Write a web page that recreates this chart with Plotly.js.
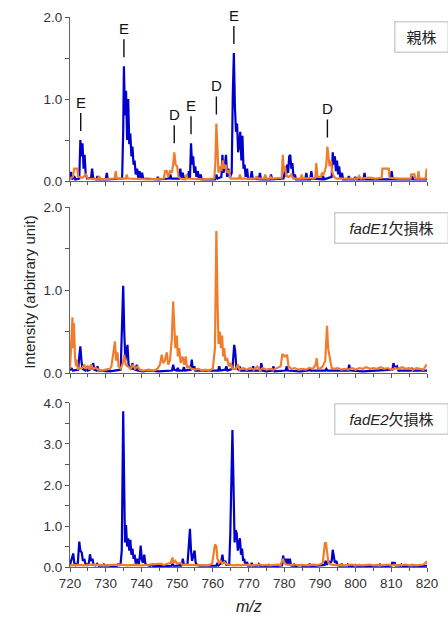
<!DOCTYPE html>
<html><head><meta charset="utf-8">
<script src="https://cdn.plot.ly/plotly-3.0.1.min.js"></script>
<style>html,body{margin:0;padding:0;background:#fff}</style>
</head><body><div id="chart" style="width:448px;height:620px"></div>
<script>
// ---- data: [m/z, intensity] ----
const panelLabels = ['親株', '<i>fadE1</i>欠損株', '<i>fadE2</i>欠損株'];
const xTicks = [720,730,740,750,760,770,780,790,800,810,820];
const parentBlue = [[720,0.02],[720.3,0.11],[720.6,0.02],[721.2,0.06],[721.5,0.02],
[722.6,0.03],[722.9,0.50],[723.2,0.30],[723.5,0.46],[723.8,0.15],[724.1,0.32],[724.4,0.08],[724.8,0.03],
[725.9,0.04],[726.2,0.15],[726.5,0.03],[727.4,0.02],[727.7,0.06],[728,0.02],
[730.0,0.02],[730.3,0.10],[730.6,0.02],
[734.6,0.03],[734.9,0.6],[735.1,1.40],[735.4,0.8],[735.7,1.1],[736.0,0.5],[736.3,1.0],[736.6,0.45],[736.9,0.58],[737.2,0.3],[737.5,0.42],[737.8,0.2],[738.1,0.25],[738.4,0.08],[738.8,0.15],[739.1,0.04],[739.5,0.12],[739.8,0.03],[740.2,0.1],[740.5,0.03],
[744.4,0.02],[744.6,0.05],[744.9,0.02],
[747.8,0.03],[748.1,0.08],[748.4,0.03],
[750.6,0.03],[750.9,0.15],[751.2,0.04],[751.6,0.1],[751.9,0.03],
[753.0,0.04],[753.3,0.12],[753.6,0.03],[753.9,0.46],[754.2,0.2],[754.5,0.3],[754.8,0.1],[755.1,0.18],[755.4,0.05],[755.8,0.12],[756.1,0.03],[756.6,0.08],[756.9,0.02],
[760.6,0.02],[761.0,0.08],[761.3,0.03],
[762.4,0.05],[762.7,0.32],[763.0,0.1],[763.4,0.2],[763.7,0.32],[764.0,0.05],[764.4,0.15],[764.8,0.04],
[765.3,0.1],[765.6,1.05],[765.9,1.56],[766.2,0.9],[766.5,0.6],[766.8,0.7],[767.1,0.35],[767.4,0.45],[767.7,0.6],[768.0,0.25],[768.3,0.55],[768.6,0.15],[768.9,0.2],[769.2,0.05],[769.6,0.15],[769.9,0.03],[770.6,0.03],[770.9,0.12],[771.2,0.03],[772.9,0.02],[773.2,0.1],[773.5,0.02],
[776.0,0.02],[776.3,0.08],[776.6,0.02],
[779.8,0.03],[780.2,0.12],[780.5,0.05],[780.8,0.2],[781.1,0.1],[781.4,0.3],[781.7,0.32],[782.0,0.15],[782.3,0.22],[782.6,0.05],[783.0,0.08],[783.3,0.02],
[785.9,0.02],[786.2,0.1],[786.5,0.02],[787.3,0.02],[787.6,0.12],[787.9,0.03],
[790.6,0.02],[790.9,0.06],[791.2,0.02],
[793.3,0.05],[793.6,0.35],[793.9,0.2],[794.2,0.3],[794.5,0.12],[794.8,0.25],[795.1,0.08],[795.4,0.18],[795.7,0.04],[796.2,0.1],[796.5,0.02],
[797.8,0.02],[798.1,0.06],[798.4,0.02],[799.6,0.02],[799.9,0.05],[800.2,0.02],
[802.2,0.02],[802.5,0.1],[802.8,0.02],
[809.8,0.02],[810.1,0.12],[810.4,0.02],
[815.5,0.02],[815.8,0.06],[816.1,0.02],[820,0.02]];
const parentOrange = [[720,0.03],[720.8,0.05],[721.2,0.15],[722.0,0.15],[722.3,0.05],[723.5,0.04],[724.5,0.08],[725,0.03],
[727.8,0.02],[728.2,0.06],[728.5,0.02],[732.5,0.03],[732.8,0.12],[733.1,0.03],[735.6,0.03],[735.9,0.08],[736.2,0.03],[742,0.02],
[746.3,0.03],[746.6,0.12],[747.1,0.12],[747.5,0.05],[748.0,0.12],[748.5,0.1],[748.9,0.2],[749.2,0.35],[749.6,0.2],[750.0,0.18],[750.4,0.05],[751.0,0.03],
[752.3,0.02],[752.6,0.08],[752.9,0.03],[757.0,0.02],
[760.4,0.03],[760.7,0.2],[761.0,0.7],[761.3,0.3],[761.6,0.1],[762.0,0.18],[762.4,0.12],[762.8,0.25],[763.2,0.15],[763.6,0.2],[764.0,0.1],[764.5,0.12],[765.0,0.03],
[767.3,0.03],[767.6,0.08],[767.9,0.03],[772.0,0.03],[772.3,0.06],[772.6,0.03],
[774.4,0.03],[774.7,0.08],[775.0,0.03],[775.9,0.03],[776.2,0.05],[776.5,0.03],
[779.3,0.04],[779.6,0.32],[779.9,0.12],[780.2,0.18],[780.6,0.06],[781.3,0.05],[782.0,0.08],[782.5,0.03],
[784.6,0.03],[784.9,0.08],[785.2,0.03],[788.7,0.04],[789.0,0.22],[789.3,0.05],
[790.3,0.05],[790.6,0.1],[791.0,0.08],[791.4,0.12],[791.8,0.2],[792.1,0.42],[792.4,0.3],[792.7,0.18],[793.1,0.25],[793.5,0.1],[794.0,0.05],[794.6,0.03],
[797.5,0.03],[800.5,0.03],[801.0,0.06],[801.4,0.03],[804.0,0.04],[805.5,0.03],
[807.3,0.04],[807.5,0.15],[809.3,0.15],[809.5,0.04],
[812,0.03],[815.4,0.03],[815.6,0.08],[816.5,0.08],[816.7,0.03],[817.4,0.03],[817.6,0.12],[817.9,0.03],[819.6,0.03],[819.9,0.15],[820,0.03]];
const fadE1Blue = [[720,0.03],[720.4,0.06],[720.8,0.03],[722.3,0.04],[722.6,0.2],[722.9,0.32],[723.2,0.15],[723.5,0.05],[724.3,0.03],[724.6,0.08],[725,0.03],[725.6,0.04],[725.9,0.1],[726.2,0.05],[726.5,0.12],[726.8,0.04],[727.4,0.03],[727.7,0.08],[728,0.03],[730.6,0.02],[730.9,0.04],[731.2,0.02],
[734.2,0.04],[734.6,0.5],[734.9,1.05],[735.2,0.5],[735.5,0.15],[735.8,0.25],[736.1,0.34],[736.4,0.1],[737.2,0.04],[737.5,0.12],[737.8,0.05],[738.4,0.04],[738.7,0.1],[739,0.03],[740.5,0.02],[742,0.03],[743.5,0.02],[744.8,0.02],
[748.6,0.03],[748.9,0.1],[749.2,0.04],[749.9,0.03],[750.2,0.06],[750.5,0.03],[751.6,0.03],[751.9,0.07],[752.2,0.03],[753.8,0.04],[754.1,0.16],[754.4,0.05],[754.8,0.08],[755.1,0.03],
[761.5,0.03],[761.8,0.08],[762.1,0.03],[763.5,0.04],[763.8,0.08],[764.1,0.03],
[765.5,0.05],[765.8,0.3],[766.0,0.34],[766.3,0.25],[766.6,0.06],[767.2,0.04],[767.5,0.08],[767.8,0.03],
[771.0,0.03],[771.3,0.08],[771.6,0.03],[773.3,0.03],[773.6,0.12],[773.9,0.03],[775,0.02],
[776.7,0.03],[777,0.08],[777.3,0.02],[780.4,0.03],[780.7,0.08],[781,0.03],[784.5,0.02],[786.8,0.03],[787.1,0.06],[787.4,0.03],
[791.5,0.03],[791.8,0.05],[792.1,0.03],[797.9,0.03],[798.2,0.1],[798.5,0.03],[802,0.02],
[810.3,0.04],[810.6,0.12],[811,0.06],[811.6,0.08],[812,0.03],[815.5,0.03],[815.8,0.05],[816.1,0.03],[820,0.03]];
const fadE1Orange = [[720,0.05],[720.3,0.4],[720.7,0.67],[720.9,0.3],[721.1,0.6],[721.4,0.2],[721.7,0.08],[721.9,0.16],[722.2,0.05],[723.4,0.06],[724,0.1],[724.5,0.05],[725,0.08],[725.5,0.04],[726,0.1],[726.4,0.05],[727.2,0.06],[728,0.04],[729,0.03],[730,0.04],[731.2,0.05],[731.6,0.08],[732,0.2],[732.6,0.38],[732.9,0.15],[733.3,0.25],[733.6,0.08],[734.2,0.05],[734.8,0.12],[735.2,0.22],[735.6,0.1],[736.2,0.08],[737,0.05],[737.6,0.1],[738.2,0.05],[739,0.08],[739.5,0.04],[740.5,0.03],[742,0.04],[743.5,0.03],[744.5,0.05],[745.2,0.1],[745.7,0.22],[746.1,0.12],[746.6,0.15],[747.1,0.25],[747.5,0.1],[748,0.15],[748.5,0.4],[748.9,0.86],[749.2,0.5],[749.5,0.3],[749.9,0.45],[750.2,0.2],[750.6,0.3],[751,0.12],[751.5,0.2],[752,0.1],[752.4,0.2],[752.8,0.06],[753.3,0.08],[754,0.05],[755,0.04],[756,0.05],[757,0.03],[758,0.04],[759,0.03],[760,0.05],[760.6,0.3],[761.0,1.71],[761.3,0.9],[761.6,0.35],[762.0,0.5],[762.3,0.3],[762.6,0.45],[762.9,0.2],[763.2,0.3],[763.5,0.15],[764,0.18],[764.5,0.08],[765,0.12],[765.5,0.05],[766.5,0.05],[767,0.1],[767.5,0.04],[768.5,0.06],[769.5,0.04],[770.5,0.06],[771.5,0.04],[772.5,0.08],[773.2,0.03],[774,0.06],[775,0.04],[776,0.05],[777,0.04],[778,0.06],[779,0.08],[779.5,0.23],[780.2,0.2],[780.8,0.22],[781.2,0.08],[782,0.05],[783,0.06],[784,0.04],[785,0.05],[786,0.04],[787,0.06],[788,0.05],[788.8,0.1],[789.1,0.18],[789.4,0.06],[790,0.05],[790.8,0.08],[791.5,0.15],[792.0,0.57],[792.3,0.3],[792.8,0.15],[793.3,0.06],[794,0.05],[795,0.06],[796,0.04],[797,0.05],[798,0.04],[799,0.06],[800,0.04],[801,0.06],[802,0.05],[803,0.07],[804,0.05],[805,0.06],[806,0.05],[807,0.07],[808,0.05],[809,0.06],[810,0.04],[811,0.06],[812,0.05],[813,0.07],[814,0.05],[815,0.06],[816,0.04],[817,0.06],[818,0.05],[819,0.04],[819.8,0.1],[820,0.08]];
const fadE2Blue = [[720,0.05],[720.5,0.2],[720.9,0.33],[721.2,0.1],[721.6,0.05],[722.2,0.1],[722.6,0.62],[722.9,0.4],[723.3,0.35],[723.6,0.15],[724,0.2],[724.3,0.08],[724.8,0.05],[725.3,0.1],[725.6,0.31],[725.9,0.15],[726.3,0.2],[726.6,0.05],[727.2,0.04],[727.6,0.08],[728,0.03],[729.2,0.03],[729.5,0.06],[729.8,0.03],[731.0,0.04],[731.5,0.02],
[733.2,0.03],[733.5,0.08],[733.8,0.03],[734.2,0.1],[734.5,0.4],[734.9,3.8],[735.2,1.5],[735.4,0.6],[735.7,1.02],[736.0,0.5],[736.3,0.7],[736.6,0.4],[736.9,0.66],[737.2,0.3],[737.5,0.45],[737.8,0.2],[738.1,0.3],[738.4,0.08],[738.9,0.2],[739.2,0.06],[739.5,0.2],[739.8,0.52],[740.1,0.2],[740.4,0.1],[740.8,0.3],[741.1,0.08],[741.5,0.05],[742.5,0.03],[743,0.06],[743.3,0.02],[745,0.02],
[748.4,0.03],[748.7,0.08],[749,0.03],[750.3,0.03],[750.6,0.08],[750.9,0.03],[751.3,0.04],[751.6,0.2],[751.9,0.05],
[752.9,0.05],[753.3,0.5],[753.6,0.93],[753.9,0.4],[754.2,0.15],[754.6,0.3],[754.9,0.4],[755.2,0.1],[755.6,0.05],[756.2,0.03],[757.5,0.03],[758,0.02],
[761.0,0.03],[761.3,0.1],[761.6,0.04],[762.2,0.08],[762.5,0.3],[762.7,0.3],[763.0,0.1],[763.5,0.15],[763.8,0.05],
[764.6,0.05],[764.9,0.8],[765.2,2.7],[765.5,3.34],[765.8,2.0],[766.1,0.6],[766.4,0.9],[766.7,0.82],[767.0,0.4],[767.3,0.55],[767.6,0.7],[767.9,0.3],[768.2,0.45],[768.5,0.15],[768.8,0.2],[769.1,0.05],[769.6,0.12],[769.9,0.03],[770.6,0.03],[770.9,0.1],[771.2,0.03],[772.6,0.03],[772.9,0.07],[773.2,0.03],
[775.4,0.02],[775.7,0.05],[776,0.02],[777.5,0.02],
[779.4,0.04],[779.7,0.28],[780.0,0.1],[780.4,0.2],[780.7,0.08],[781.0,0.2],[781.3,0.08],[781.6,0.2],[781.9,0.04],[782.5,0.03],[782.8,0.06],[783.1,0.02],[784.5,0.03],[784.8,0.05],[785.1,0.02],[786.8,0.03],[787.1,0.08],[787.4,0.02],
[791.3,0.05],[791.6,0.15],[792,0.05],[792.4,0.15],[792.8,0.08],[793.3,0.15],[793.6,0.42],[793.9,0.2],[794.2,0.1],[794.6,0.15],[795,0.04],[795.8,0.03],[796.1,0.08],[796.4,0.03],[797.5,0.03],[797.8,0.06],[798.1,0.02],[799.7,0.03],[800,0.05],[800.3,0.02],
[806.5,0.03],[806.8,0.06],[807.1,0.02],[810.0,0.03],[810.3,0.12],[810.6,0.06],[810.9,0.12],[811.2,0.04],[812.5,0.03],[812.8,0.06],[813.1,0.02],[815.6,0.03],[815.9,0.05],[816.2,0.02],[820,0.03]];
const fadE2Orange = [[720,0.04],[722,0.05],[724,0.04],[726,0.06],[728,0.05],[730,0.04],[732,0.05],[734,0.06],[736,0.04],[738,0.05],[740,0.04],[742,0.05],[744,0.06],[745.5,0.08],[746.2,0.05],[747.5,0.08],[748.2,0.1],[748.7,0.23],[749.0,0.1],[749.5,0.15],[750,0.08],[751,0.1],[751.5,0.05],[752.5,0.06],[754,0.05],[755,0.06],[756,0.04],[757,0.05],[758,0.04],[759,0.05],[759.8,0.08],[760.2,0.3],[760.6,0.55],[761.0,0.5],[761.3,0.2],[761.7,0.1],[762.2,0.15],[762.6,0.08],[763.2,0.12],[764,0.06],[765,0.05],[766,0.04],[767,0.05],[768,0.04],[769,0.06],[770,0.05],[771,0.04],[772,0.05],[773,0.06],[774,0.04],[775,0.05],[776,0.04],[777,0.05],[778,0.06],[779,0.05],[779.6,0.2],[780,0.12],[780.5,0.06],[781.5,0.05],[783,0.06],[784,0.04],[785,0.05],[786,0.04],[787,0.05],[788,0.06],[789,0.05],[790,0.06],[790.8,0.1],[791.1,0.35],[791.4,0.58],[791.7,0.58],[792.0,0.3],[792.4,0.1],[793,0.06],[794,0.05],[795,0.04],[796,0.05],[797,0.04],[798,0.05],[799,0.06],[800,0.04],[801,0.05],[802,0.04],[803,0.05],[804,0.06],[805,0.04],[806,0.05],[807,0.04],[808,0.05],[809,0.06],[810,0.04],[811,0.05],[812,0.04],[813,0.05],[814,0.06],[815,0.04],[816,0.05],[817,0.04],[818,0.05],[819,0.06],[819.8,0.12],[820,0.08]];
// peak labels for parent panel: [label, m/z, intensity]
const peakLabels = [['E',723.0,0.50],['E',735.1,1.40],['D',749.2,0.35],['E',753.9,0.46],['D',761.0,0.70],['E',765.9,1.56],['D',792.1,0.42]];

const BLUE = '#0000cc', ORANGE = '#f07d2c';
const FONT = 'Liberation Sans, Arial, Helvetica, sans-serif';
const CJK = 'Liberation Sans, Arial, Noto Sans CJK JP, sans-serif';

function tr(data, color, ax) {
  return {x: data.map(d => d[0]), y: data.map(d => d[1]), xaxis: 'x' + ax, yaxis: 'y' + ax,
    type: 'scatter', mode: 'lines', cliponaxis: true,
    line: {color: color, width: 2.2}, hoverinfo: 'skip'};
}
const traces = [
  tr(parentBlue, BLUE, ''), tr(parentOrange, ORANGE, ''),
  tr(fadE1Blue, BLUE, '2'), tr(fadE1Orange, ORANGE, '2'),
  tr(fadE2Blue, BLUE, '3'), tr(fadE2Orange, ORANGE, '3')
];

function xax(anchor, labels) {
  return {domain: [0, 1], anchor: anchor, range: [720, 820], tickvals: xTicks, showticklabels: labels,
    ticks: 'outside', ticklen: 4, tickcolor: '#555', tickwidth: 1,
    minor: {dtick: 5, tick0: 720, ticks: 'outside', ticklen: 3, tickcolor: '#555'},
    showline: true, linecolor: '#666', linewidth: 1, showgrid: false, zeroline: false,
    tickfont: {family: FONT, size: 13.5, color: '#333'}};
}
function yax(anchor, dom, max) {
  const tv = []; const tt = [];
  for (let v = 0; v <= max; v += 1) { tv.push(v); tt.push(v.toFixed(1)); }
  return {domain: dom, anchor: anchor, range: [0, max], tickvals: tv, ticktext: tt,
    ticks: 'outside', ticklen: 4, tickcolor: '#555',
    minor: {dtick: 0.5, tick0: 0, ticks: 'outside', ticklen: 4, tickcolor: '#555'},
    showline: true, linecolor: '#666', linewidth: 1, showgrid: false, zeroline: false,
    tickfont: {family: FONT, size: 13.5, color: '#333'}};
}

const annotations = [];
peakLabels.forEach(p => {
  annotations.push({x: p[1], y: p[2], xref: 'x', yref: 'y', text: p[0], showarrow: true,
    arrowhead: 0, arrowwidth: 1.4, arrowcolor: '#111', ax: 0, ay: -38, standoff: 9, startstandoff: 1,
    font: {family: FONT, size: 15, color: '#111'}});
});
const boxY = [1.0 - 0.0073, 0.6545 - 0.0091, 0.2982];
panelLabels.forEach((t, i) => {
  annotations.push({xref: 'paper', yref: 'paper', x: 1.062, y: boxY[i], xanchor: 'right', yanchor: 'top',
    text: t, showarrow: false, bgcolor: '#fff', bordercolor: '#cfcfcf', borderwidth: 1.5,
    borderpad: 6, width: i === 0 ? 40 : 100, align: 'center',
    font: {family: CJK, size: 15, color: '#222'}});
});
annotations.push({xref: 'paper', yref: 'paper', x: -0.145, y: 0.5, text: 'Intensity (arbitrary unit)',
  textangle: -90, showarrow: false, font: {family: FONT, size: 15, color: '#222'}});
annotations.push({xref: 'paper', yref: 'paper', x: 0.5, y: -0.071, yanchor: 'middle', text: '<i>m/z</i>',
  showarrow: false, font: {family: FONT, size: 16, color: '#222'}});

const layout = {
  width: 448, height: 620, margin: {l: 70, r: 21, t: 17, b: 53},
  paper_bgcolor: '#fff', plot_bgcolor: '#fff', showlegend: false,
  xaxis: xax('y', false), xaxis2: xax('y2', false), xaxis3: xax('y3', true),
  yaxis: yax('x', [0.7018, 1], 2), yaxis2: yax('x2', [0.3527, 0.6545], 2), yaxis3: yax('x3', [0, 0.2982], 4),
  annotations: annotations
};
Plotly.newPlot('chart', traces, layout, {staticPlot: true, displayModeBar: false});
</script></body></html>
